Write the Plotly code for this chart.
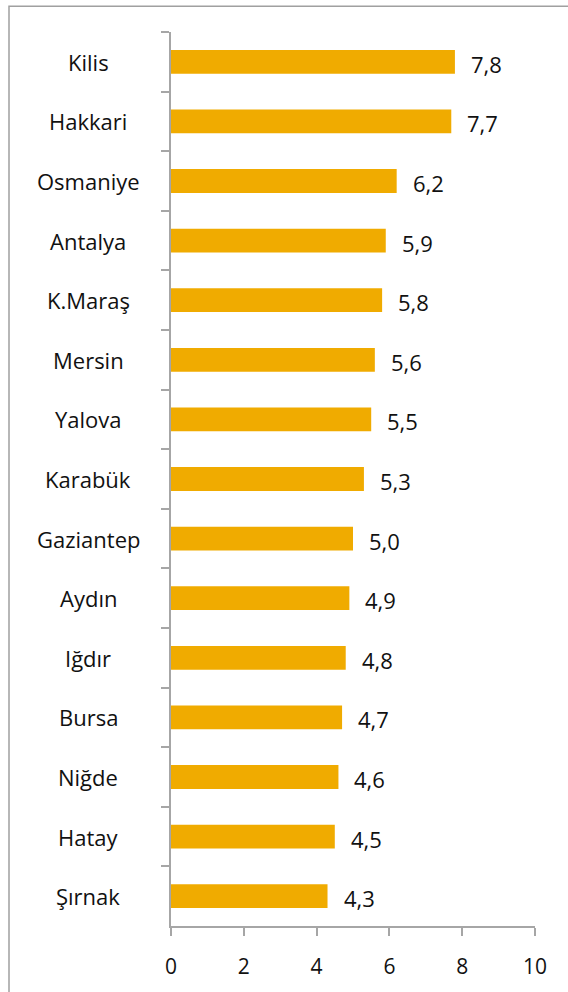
import plotly.graph_objects as go

categories = ["Kilis", "Hakkari", "Osmaniye", "Antalya", "K.Maraş", "Mersin", "Yalova",
              "Karabük", "Gaziantep", "Aydın", "Iğdır", "Bursa", "Niğde", "Hatay", "Şırnak"]
values = [7.8, 7.7, 6.2, 5.9, 5.8, 5.6, 5.5, 5.3, 5.0, 4.9, 4.8, 4.7, 4.6, 4.5, 4.3]
x_ticks = [0, 2, 4, 6, 8, 10]
x_tick_labels = ["0", "2", "4", "6", "8", "10"]

W, H = 568, 992
L, R, T, B = 171, 33, 32, 57
pw, ph = W - L - R, H - T - B

FONT = "Open Sans"
TXT = "#111111"
fig = go.Figure(go.Bar(
    x=values, y=categories, orientation="h",
    marker=dict(color="#F0AB00", line=dict(width=0)),
    width=0.4, hoverinfo="skip",
))

for c, v in zip(categories, values):
    fig.add_annotation(x=v, y=c, xref="x", yref="y", text=f"{v:.1f}".replace(".", ","),
                       showarrow=False, xanchor="left", yanchor="middle", xshift=14, yshift=-2,
                       font=dict(family=FONT, size=22, color=TXT))
    fig.add_annotation(x=(88 - L) / pw, y=c, xref="paper", yref="y", text=c,
                       showarrow=False, xanchor="center", yanchor="middle",
                       font=dict(family=FONT, size=22, color=TXT))

# outer chart border (only top and left edges are inside the view)
fig.add_shape(type="path", xref="paper", yref="paper",
              path=f"M {(9 - L) / pw} {-(1100 - (H - B)) / ph} L {(9 - L) / pw} {1 + (T - 6) / ph} "
                   f"L {(700 - L) / pw} {1 + (T - 6) / ph}",
              line=dict(color="#A0A0A0", width=1.5), layer="below")

fig.update_layout(
    width=W, height=H, margin=dict(l=L, r=R, t=T, b=B),
    paper_bgcolor="white", plot_bgcolor="white", showlegend=False,
    bargap=0.6,
    font=dict(family=FONT, size=21, color=TXT),
)
fig.update_xaxes(range=[0, 10], tickvals=x_ticks, ticktext=x_tick_labels,
                 showgrid=False, zeroline=False, showline=True, linecolor="#A6A6A6", linewidth=1.5,
                 ticks="outside", ticklen=8, tickcolor="#A6A6A6", tickwidth=1.5,
                 ticklabelstandoff=13, tickfont=dict(family=FONT, size=21, color=TXT))
fig.update_yaxes(categoryorder="array", categoryarray=categories, autorange="reversed",
                 showgrid=False, zeroline=False, showline=True, linecolor="#A6A6A6", linewidth=1.5,
                 ticks="outside", ticklen=8, tickcolor="#A6A6A6", tickwidth=1.5,
                 tickson="boundaries", showticklabels=False)

fig.write_html("out.html", config={"displayModeBar": False},
               post_script="document.body.style.margin='0';")
